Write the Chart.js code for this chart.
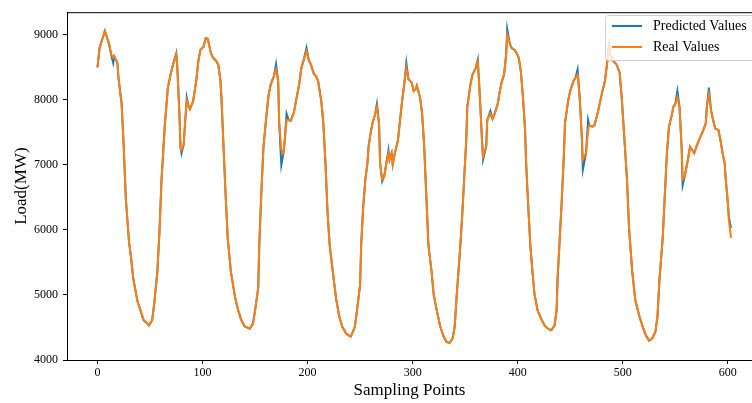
<!DOCTYPE html>
<html>
<head>
<meta charset="utf-8">
<script src="https://cdn.jsdelivr.net/npm/chart.js@4.4.0/dist/chart.umd.min.js"></script>
<style>
  html, body { margin: 0; padding: 0; background: #fff; }
  #wrap { width: 752px; height: 403px; }
</style>
</head>
<body>
<div id="wrap"><canvas id="myChart" width="752" height="403"></canvas></div>
<script>
const samplePoints = [
  0, 2, 7, 11, 13, 15, 16, 19, 20, 23,
  25, 27, 30, 32, 34, 38, 41, 44, 47, 49,
  52, 54, 57, 59, 61, 64, 67, 70, 72, 75,
  76, 78, 79, 80, 82, 84, 85, 87, 88, 90,
  91, 94, 96, 98, 101, 103, 105, 108, 110, 113,
  115, 117, 118, 120, 122, 124, 127, 131, 134, 137,
  140, 145, 148, 150, 153, 154, 156, 158, 161, 163,
  165, 168, 170, 172, 173, 175, 177, 178, 180, 182,
  184, 187, 189, 192, 194, 196, 199, 201, 203, 206,
  208, 210, 213, 215, 217, 219, 221, 224, 227, 230,
  233, 237, 241, 243, 245, 247, 250, 251, 253, 255,
  257, 258, 260, 262, 264, 266, 268, 269, 271, 273,
  275, 277, 278, 280, 281, 283, 285, 286, 288, 290,
  292, 294, 296, 299, 301, 303, 304, 307, 309, 311,
  313, 315, 318, 320, 323, 326, 329, 332, 335, 338,
  340, 342, 345, 347, 349, 351, 352, 355, 357, 360,
  362, 364, 366, 367, 370, 371, 374, 376, 378, 381,
  383, 385, 387, 389, 390, 392, 394, 397, 399, 401,
  403, 405, 407, 408, 410, 412, 414, 416, 419, 423,
  426, 430, 432, 435, 437, 438, 440, 442, 444, 445,
  448, 450, 453, 455, 457, 459, 461, 462, 465, 467,
  468, 471, 473, 476, 478, 480, 483, 485, 487, 488,
  491, 494, 497, 499, 501, 504, 506, 509, 512, 516,
  519, 522, 525, 528, 531, 533, 535, 538, 540, 542,
  544, 547, 548, 550, 552, 554, 556, 557, 559, 562,
  564, 566, 568, 570, 572, 574, 576, 579, 580, 582,
  584, 586, 588, 591, 593, 595, 597, 598, 600, 601, 603
];

const realValues = [
  8500, 8800, 9060, 8870, 8700, 8650, 8670, 8570, 8340, 7940,
  7280, 6480, 5820, 5570, 5260, 4910, 4760, 4610, 4570, 4530,
  4610, 4860, 5360, 5970, 6780, 7590, 8190, 8420, 8550, 8700,
  8500, 7790, 7280, 7230, 7310, 7790, 7990, 7890, 7860, 7940,
  7980, 8290, 8600, 8770, 8820, 8950, 8940, 8720, 8650, 8600,
  8540, 8300, 8040, 7280, 6530, 5870, 5360, 4960, 4760, 4610,
  4520, 4480, 4560, 4760, 5110, 5770, 6580, 7280, 7790, 8090,
  8240, 8370, 8470, 8290, 7640, 7230, 7180, 7330, 7690, 7690,
  7680, 7810, 7990, 8240, 8490, 8600, 8750, 8620, 8550, 8400,
  8370, 8290, 7990, 7640, 7030, 6270, 5770, 5360, 4960, 4680,
  4510, 4400, 4360, 4430, 4510, 4760, 5160, 5770, 6370, 6780,
  7030, 7280, 7490, 7660, 7760, 7890, 7640, 7030, 6780, 6830,
  7030, 7180, 7080, 7180, 7010, 7180, 7310, 7380, 7690, 7990,
  8240, 8490, 8320, 8270, 8140, 8170, 8220, 8040, 7790, 7280,
  6530, 5770, 5360, 5010, 4760, 4530, 4380, 4280, 4260, 4330,
  4510, 5010, 5670, 6170, 6780, 7380, 7890, 8240, 8390, 8490,
  8590, 8040, 7380, 7130, 7280, 7690, 7790, 7710, 7790, 7940,
  8140, 8290, 8390, 8700, 9000, 8900, 8800, 8770, 8720, 8650,
  8440, 8040, 7540, 7030, 6370, 5770, 5360, 5010, 4760, 4610,
  4520, 4470, 4460, 4530, 4760, 5260, 5870, 6480, 7180, 7640,
  7990, 8140, 8290, 8340, 8390, 8040, 7440, 7080, 7180, 7540,
  7610, 7590, 7610, 7790, 7940, 8090, 8290, 8550, 8850, 8700,
  8600, 8550, 8420, 8040, 7540, 6780, 6020, 5360, 4910, 4660,
  4510, 4380, 4300, 4330, 4430, 4660, 5260, 5870, 6530, 7180,
  7590, 7790, 7890, 7940, 8040, 7890, 7280, 6780, 6830, 7080,
  7280, 7230, 7180, 7280, 7360, 7440, 7510, 7640, 7890, 8090,
  7840, 7690, 7560, 7540, 7380, 7180, 7030, 6780, 6420, 6150, 5880
];

const predictedValues = [
  8500, 8800, 9060, 8870, 8700, 8570, 8670, 8570, 8340, 7940,
  7280, 6480, 5820, 5570, 5260, 4910, 4760, 4610, 4570, 4530,
  4610, 4860, 5360, 5970, 6780, 7590, 8190, 8420, 8550, 8720,
  8500, 7790, 7280, 7180, 7310, 7790, 8040, 7890, 7860, 7940,
  7980, 8290, 8600, 8770, 8820, 8950, 8940, 8720, 8650, 8600,
  8540, 8300, 8040, 7280, 6530, 5870, 5360, 4960, 4760, 4610,
  4520, 4480, 4560, 4760, 5110, 5770, 6580, 7280, 7790, 8090,
  8240, 8370, 8550, 8290, 7640, 7000, 7180, 7330, 7790, 7690,
  7680, 7810, 7990, 8240, 8490, 8600, 8800, 8620, 8550, 8400,
  8370, 8290, 7990, 7640, 7030, 6270, 5770, 5360, 4960, 4680,
  4510, 4400, 4360, 4430, 4510, 4760, 5160, 5770, 6370, 6780,
  7030, 7280, 7490, 7660, 7760, 7940, 7640, 7030, 6750, 6830,
  7030, 7230, 7080, 7180, 7010, 7180, 7310, 7380, 7690, 7990,
  8240, 8570, 8320, 8270, 8140, 8170, 8220, 8040, 7790, 7280,
  6530, 5770, 5360, 5010, 4760, 4530, 4380, 4280, 4260, 4330,
  4510, 5010, 5670, 6170, 6780, 7380, 7890, 8240, 8390, 8490,
  8620, 8040, 7380, 7080, 7280, 7690, 7830, 7710, 7790, 7940,
  8140, 8290, 8390, 8700, 9090, 8900, 8800, 8770, 8720, 8650,
  8440, 8040, 7540, 7030, 6370, 5770, 5360, 5010, 4760, 4610,
  4520, 4470, 4460, 4530, 4760, 5260, 5870, 6480, 7180, 7640,
  7990, 8140, 8290, 8340, 8470, 8040, 7440, 6930, 7180, 7690,
  7610, 7590, 7610, 7790, 7940, 8090, 8290, 8550, 8900, 8700,
  8600, 8550, 8420, 8040, 7540, 6780, 6020, 5360, 4910, 4660,
  4510, 4380, 4300, 4330, 4430, 4660, 5260, 5870, 6530, 7180,
  7590, 7790, 7890, 7940, 8140, 7890, 7280, 6690, 6830, 7080,
  7280, 7230, 7180, 7280, 7360, 7440, 7510, 7640, 7890, 8190,
  7840, 7690, 7560, 7540, 7380, 7180, 7030, 6780, 6420, 6200, 6030
];

const xTicks = [0, 100, 200, 300, 400, 500, 600];
const yTicks = [4000, 5000, 6000, 7000, 8000, 9000];
const seriesNames = ['Predicted Values', 'Real Values'];
const seriesColors = ['#1f77b4', '#ff7f0e'];

const serif = "'Liberation Serif', 'Times New Roman', serif";

function toPoints(values) {
  return samplePoints.map((x, i) => ({ x: x, y: values[i] }));
}

// top spine + legend box drawn on top of the lines
const frameAndLegend = {
  id: 'frameAndLegend',
  afterDraw(chart) {
    const c = chart.ctx;
    const area = chart.chartArea;
    c.save();
    c.strokeStyle = '#000';
    c.lineWidth = 1;
    c.beginPath();
    c.moveTo(area.left, area.top + 0.5);
    c.lineTo(area.right, area.top + 0.5);
    c.stroke();

    // legend
    const bx = 605.5, by = 15.5, bw = 160, bh = 45, r = 3;
    c.beginPath();
    c.moveTo(bx + r, by);
    c.lineTo(bx + bw - r, by);
    c.quadraticCurveTo(bx + bw, by, bx + bw, by + r);
    c.lineTo(bx + bw, by + bh - r);
    c.quadraticCurveTo(bx + bw, by + bh, bx + bw - r, by + bh);
    c.lineTo(bx + r, by + bh);
    c.quadraticCurveTo(bx, by + bh, bx, by + bh - r);
    c.lineTo(bx, by + r);
    c.quadraticCurveTo(bx, by, bx + r, by);
    c.closePath();
    c.fillStyle = 'rgba(255,255,255,0.8)';
    c.fill();
    c.strokeStyle = '#d0d0d0';
    c.stroke();

    c.font = '14px ' + serif;
    c.textBaseline = 'middle';
    c.textAlign = 'left';
    seriesNames.forEach((name, i) => {
      const y = 26 + i * 21;
      c.strokeStyle = seriesColors[i];
      c.lineWidth = 2;
      c.beginPath();
      c.moveTo(612, y);
      c.lineTo(642, y);
      c.stroke();
      c.fillStyle = '#000';
      c.fillText(name, 653, y);
    });
    c.restore();
  }
};

const ctx = document.getElementById('myChart').getContext('2d');

const myChart = new Chart(ctx, {
  type: 'line',
  data: {
    datasets: [
      {
        label: seriesNames[0],
        data: toPoints(predictedValues),
        borderColor: seriesColors[0],
        borderWidth: 2,
        pointRadius: 0,
        tension: 0,
        fill: false,
        order: 2
      },
      {
        label: seriesNames[1],
        data: toPoints(realValues),
        borderColor: seriesColors[1],
        borderWidth: 2,
        pointRadius: 0,
        tension: 0,
        fill: false,
        order: 1
      }
    ]
  },
  options: {
    responsive: false,
    animation: false,
    layout: { padding: { top: 7, right: 0, bottom: 0, left: 0 } },
    plugins: {
      legend: { display: false },
      tooltip: { enabled: false }
    },
    scales: {
      x: {
        type: 'linear',
        min: -29,
        max: 623,
        afterBuildTicks: s => { s.ticks = xTicks.map(v => ({ value: v })); },
        afterFit: s => { s.height = 43; },
        grid: { drawOnChartArea: false, color: '#000', tickLength: 4 },
        border: { color: '#000', width: 1 },
        ticks: { color: '#000', font: { family: serif, size: 12 }, padding: 2, maxRotation: 0, callback: v => String(v) },
        title: {
          display: true,
          text: 'Sampling Points',
          color: '#000',
          font: { family: serif, size: 17 },
          padding: { top: 0, bottom: 2 }
        }
      },
      y: {
        min: 4000,
        max: 9350,
        afterBuildTicks: s => { s.ticks = yTicks.map(v => ({ value: v })); },
        afterFit: s => { s.width = 67; },
        grid: { drawOnChartArea: false, color: '#000', tickLength: 4 },
        border: { color: '#000', width: 1 },
        ticks: { color: '#000', font: { family: serif, size: 12 }, padding: 5, callback: v => String(v) },
        title: {
          display: true,
          text: 'Load(MW)',
          color: '#000',
          font: { family: serif, size: 17 },
          padding: { top: 11, bottom: 0 }
        }
      }
    }
  },
  plugins: [frameAndLegend]
});
</script>
</body>
</html>
